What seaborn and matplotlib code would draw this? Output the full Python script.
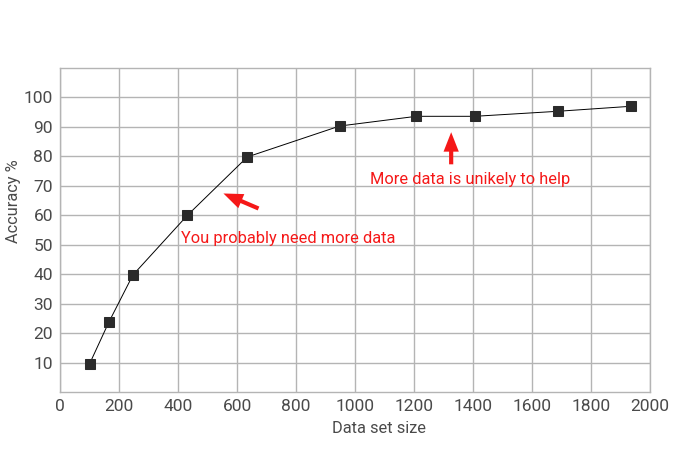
import matplotlib
matplotlib.use("Agg")
import matplotlib.pyplot as plt
import seaborn as sns
import pandas as pd

data_size = [100, 165, 247, 432, 635, 948, 1208, 1406, 1687, 1935]
accuracy  = [9.5, 23.6, 39.7, 60.0, 79.8, 90.3, 93.6, 93.6, 95.3, 97.0]

x_ticks = list(range(0, 2001, 200))
y_ticks = list(range(10, 101, 10))

GRID = "#b4b4b4"
TEXT = "#4a4a4a"
RED  = "#f51818"

sns.set_theme(style="whitegrid")
plt.rcParams['font.family'] = ['Roboto', 'DejaVu Sans']

df = pd.DataFrame({"size": data_size, "acc": accuracy})

fig = plt.figure(figsize=(7, 4.5), dpi=100)
ax = fig.add_axes([60 / 700, 1 - 392 / 450, 590 / 700, 324 / 450])

sns.lineplot(data=df, x="size", y="acc", ax=ax, color="black", linewidth=0.7,
             marker="s", markersize=6.5, markerfacecolor="#2b2b2b",
             markeredgecolor="#2b2b2b", zorder=3)

ax.set_xlim(0, 2000)
ax.set_ylim(0, 110)
ax.set_xticks(x_ticks)
ax.set_yticks(y_ticks)
ax.grid(True, color=GRID, linewidth=1)
for s in ax.spines.values():
    s.set_color(GRID)
    s.set_linewidth(1)
ax.tick_params(axis="both", length=0, labelsize=12.5, labelcolor=TEXT, pad=5)
ax.set_xlabel("Data set size", fontsize=11.8, color=TEXT)
ax.set_ylabel("Accuracy %", fontsize=11.8, color=TEXT)
ax.xaxis.set_label_coords(0.5415, -0.09)
ax.yaxis.set_label_coords(-0.066, 0.59)

arrow = dict(arrowstyle="simple,head_length=0.7,head_width=0.55,tail_width=0.15",
             color=RED, lw=0, mutation_scale=20, shrinkA=0, shrinkB=0)
ax.annotate("", xy=(554, 67.4), xytext=(673, 62.3), arrowprops=arrow)
ax.annotate("", xy=(1326, 88.2), xytext=(1326, 77.3), arrowprops=arrow)
ax.text(410, 52, "You probably need more data", color=RED, fontsize=11.8, va="center")
ax.text(1052, 72, "More data is unikely to help", color=RED, fontsize=11.8, va="center")

fig.savefig("out.png", dpi=100)
